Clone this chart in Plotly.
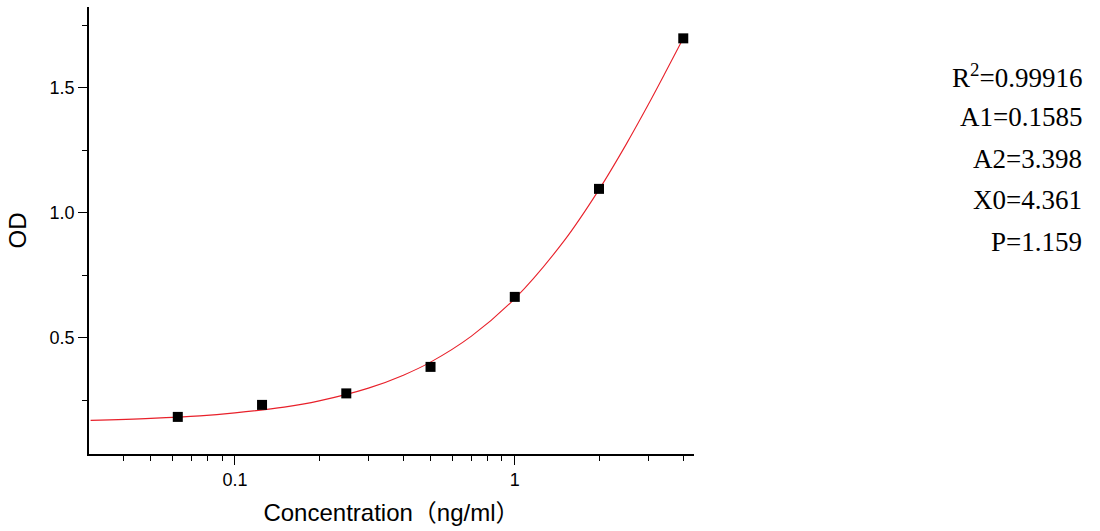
import plotly.graph_objects as go

# Measured standards
conc = [0.0625, 0.125, 0.25, 0.5, 1, 2, 4]
od = [0.183, 0.231, 0.277, 0.383, 0.663, 1.095, 1.697]

# Fitted logistic curve
fit_x = [0.0305, 0.05, 0.075, 0.1, 0.15, 0.2, 0.3, 0.4, 0.5, 0.7, 1.0, 1.5, 2.0, 2.5, 3.0, 3.5, 4.0]
fit_y = [0.169, 0.177, 0.187, 0.199, 0.222, 0.247, 0.298, 0.350, 0.402, 0.506, 0.656, 0.887, 1.092, 1.273, 1.432, 1.573, 1.697]

fit_labels = ["R<sup>2</sup>=0.99916", "A1=0.1585", "A2=3.398", "X0=4.361", "P=1.159"]

x_major = [0.1, 1]
x_major_text = ["0.1", "1"]
x_minor = [0.04, 0.05, 0.06, 0.07, 0.08, 0.09, 0.2, 0.3, 0.4, 0.5, 0.6, 0.7, 0.8, 0.9, 2, 3, 4]
y_major = [0.5, 1.0, 1.5]
y_major_text = ["0.5", "1.0", "1.5"]
y_minor = [0.25, 0.75, 1.25, 1.75]

# plot area in pixels
L, R, T, B = 89, 694, 7, 454
W, H = R - L, B - T

fig = go.Figure()
fig.add_trace(go.Scatter(x=fit_x, y=fit_y, mode="lines", line=dict(color="#e8202a", width=1.1, shape="spline"),
                         hoverinfo="skip", showlegend=False))
fig.add_trace(go.Scatter(x=conc, y=od, mode="markers",
                         marker=dict(symbol="square", size=10, color="black", line=dict(width=0)),
                         showlegend=False))

line_centers = [76, 117, 159, 200, 242]
for txt, yc in zip(fit_labels, line_centers):
    fig.add_annotation(
        xref="paper", yref="paper",
        x=(1084 - L) / W, y=(B - yc) / H,
        xanchor="right", yanchor="middle", align="right",
        text=txt, showarrow=False,
        font=dict(family="Liberation Serif, Times New Roman, serif", size=27, color="black"),
    )

axis_font = dict(family="Liberation Sans, Arial, sans-serif", size=18, color="black")
title_font = dict(family="Liberation Sans, Noto Sans CJK SC, Arial, sans-serif", size=24, color="black")

fig.update_xaxes(
    type="log", range=[-1.5214, 0.6404],
    showline=True, linecolor="black", linewidth=1.6,
    showgrid=False, zeroline=False,
    ticks="outside", ticklen=9, tickwidth=1.4, tickcolor="black",
    tickvals=x_major, ticktext=x_major_text, tickfont=axis_font,
    minor=dict(ticks="outside", ticklen=5, tickwidth=1.4, tickcolor="black", tickvals=x_minor, showgrid=False),
    title=dict(text="Concentration（ng/ml）", font=title_font, standoff=15),
)
fig.update_yaxes(
    range=[0.0346, 1.8224],
    showline=True, linecolor="black", linewidth=1.6,
    showgrid=False, zeroline=False,
    ticks="outside", ticklen=9, tickwidth=1.4, tickcolor="black",
    tickvals=y_major, ticktext=y_major_text, tickfont=axis_font,
    minor=dict(ticks="outside", ticklen=5, tickwidth=1.4, tickcolor="black", tickvals=y_minor, showgrid=False),
    title=dict(text="OD", font=title_font, standoff=16),
)

fig.update_layout(
    width=1100, height=531,
    margin=dict(l=L, r=1100 - R, t=T, b=531 - B),
    plot_bgcolor="white", paper_bgcolor="white",
)

fig.write_html("out.html", config={"displayModeBar": False},
               post_script="document.body.style.margin='0';")
